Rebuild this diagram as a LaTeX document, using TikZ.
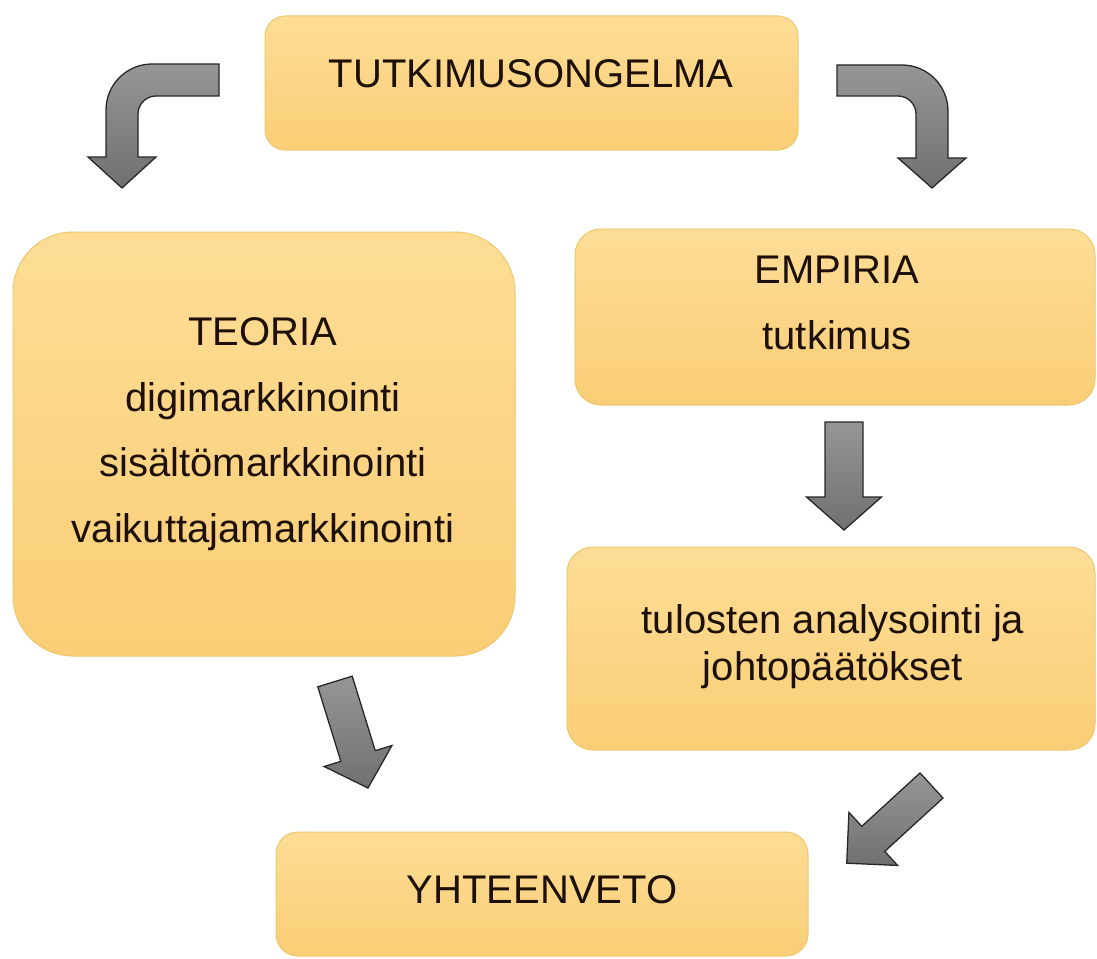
\documentclass[tikz,border=0pt]{standalone}
\usepackage{fontspec}
\setmainfont{Liberation Sans}
\begin{document}
\begin{tikzpicture}[x=1pt,y=-1pt,
  box/.style={draw={rgb,255:red,236;green,200;blue,110}, line width=1pt,
    top color={rgb,255:red,253;green,221;blue,150},
    bottom color={rgb,255:red,250;green,206;blue,118},
    inner sep=0pt},
  txt/.style={font=\fontsize{40}{48}\selectfont, text={rgb,255:red,28;green,16;blue,8}, inner sep=0pt, anchor=base},
  blk/.style={draw={rgb,255:red,40;green,40;blue,40}, line width=1.3pt, line join=miter,
    top color={rgb,255:red,150;green,150;blue,150},
    bottom color={rgb,255:red,112;green,112;blue,112}}
]
\useasboundingbox (0,0) rectangle (1097,958);

% boxes
\node[box, rounded corners=20pt, minimum width=533pt, minimum height=134pt] (ongelma) at (531.5,83) {};
\node[box, rounded corners=60pt, minimum width=502pt, minimum height=424pt] (teoria) at (264,444) {};
\node[box, rounded corners=26pt, minimum width=520pt, minimum height=176pt] (empiria) at (835,317) {};
\node[box, rounded corners=26pt, minimum width=528pt, minimum height=203pt] (tulokset) at (831,648.5) {};
\node[box, rounded corners=22pt, minimum width=532pt, minimum height=124pt] (yhteenveto) at (542,894) {};

% texts
\node[txt] (t0) at (531,88) {TUTKIMUSONGELMA};
\node[txt] (t1) at (263,345) {TEORIA};
\node[txt] (t2) at (263,411) {digimarkkinointi};
\node[txt] (t3) at (263,476) {sisältömarkkinointi};
\node[txt] (t4) at (263,542) {vaikuttajamarkkinointi};
\node[txt] (t5) at (837,283) {EMPIRIA};
\node[txt] (t6) at (837,349) {tutkimus};
\node[txt] (t7) at (833,633) {tulosten analysointi ja};
\node[txt] (t8) at (833,680) {johtopäätökset};
\node[txt] (t9) at (542,903) {YHTEENVETO};

% curved arrow left
\draw[blk] (219,64) -- (152,64) .. controls (126.6,64) and (106,84.6) .. (106,110)
  -- (106,157) -- (88,157) -- (122,188) -- (156,157) -- (138,157) -- (138,114)
  .. controls (138,104.1) and (146.1,96) .. (156,96) -- (219,96) -- cycle;

% curved arrow right
\draw[blk] (837,65) -- (902,65) .. controls (927.4,65) and (948,85.6) .. (948,111)
  -- (948,158) -- (966,158) -- (932,188) -- (898,158) -- (916,158) -- (916,114)
  .. controls (916,104.1) and (907.9,96) .. (898,96) -- (837,96) -- cycle;

% straight arrows (local: pointing down)
\begin{scope}[shift={(844,422)}]
  \draw[blk] (-19,0) -- (-19,75) -- (-37.5,75) -- (0,108) -- (37.5,75) -- (19,75) -- (19,0) -- cycle;
\end{scope}
\begin{scope}[shift={(335,681.5)}, rotate=17.2]
  \draw[blk] (-18,0) -- (-18,78) -- (-35.5,78) -- (0,111.5) -- (35.5,78) -- (18,78) -- (18,0) -- cycle;
\end{scope}
\begin{scope}[shift={(931.5,785.5)}, rotate=-47.5]
  \draw[blk] (-17,0) -- (-17,79) -- (-36,79) -- (0,115) -- (36,79) -- (17,79) -- (17,0) -- cycle;
\end{scope}
\end{tikzpicture}
\end{document}
